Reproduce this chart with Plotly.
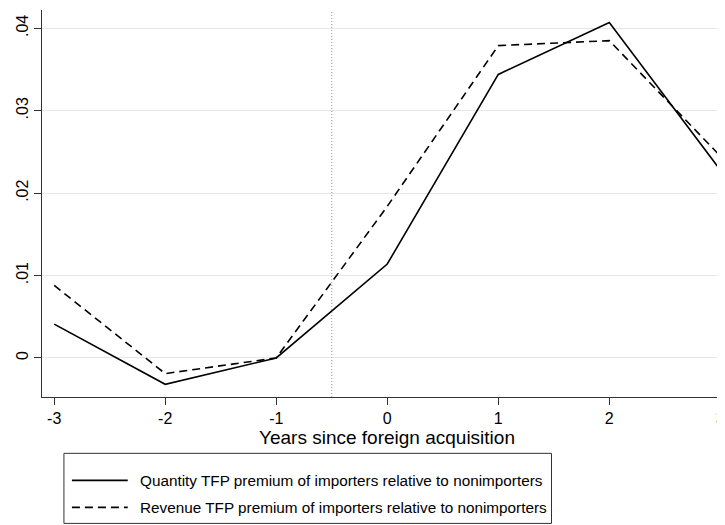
import plotly.graph_objects as go

years = [-3, -2, -1, 0, 1, 2, 3]
quantity_tfp = [0.0041, -0.0032, 0.0, 0.0114, 0.0344, 0.0407, 0.0228]
revenue_tfp = [0.0088, -0.0019, 0.0, 0.0184, 0.0379, 0.0385, 0.0245]
names = ["Quantity TFP premium of importers relative to nonimporters",
         "Revenue TFP premium of importers relative to nonimporters"]
ytick_vals = [0, 0.01, 0.02, 0.03, 0.04]
ytick_text = ["0", ".01", ".02", ".03", ".04"]
xtick_vals = [-3, -2, -1, 0, 1, 2, 3]
xtick_text = ["-3", "-2", "-1", "0", "1", "2", "3"]
event_line = -0.5
x_title = "Years since foreign acquisition"

# page body has an 8px margin, so the figure is drawn 8px smaller
OFF = 8
W, H = 725 - OFF, 525 - OFF
# plot area in reference pixel coordinates
PL, PR, PT, PB = 42, 725, 10, 396.7
L, R, T, B = PL - OFF, 0, PT - OFF, H - (PB - OFF)
FONT = "Liberation Sans, Arial, Helvetica, sans-serif"

fig = go.Figure()
fig.add_trace(go.Scatter(x=years, y=quantity_tfp, mode="lines", name=names[0],
                         line=dict(color="black", width=1.6), showlegend=False))
fig.add_trace(go.Scatter(x=years, y=revenue_tfp, mode="lines", name=names[1],
                         line=dict(color="black", width=1.6, dash="8px,5px"), showlegend=False))

fig.add_shape(type="line", xref="x", yref="paper", x0=event_line, x1=event_line, y0=0, y1=1,
              line=dict(color="#999999", width=1, dash="1px,2px"))

def px_x(p):
    return (p - PL) / (PR - PL)
def px_y(p):
    return (PB - p) / (PB - PT)

# legend box
fig.add_shape(type="rect", xref="paper", yref="paper", x0=px_x(64), x1=px_x(553),
              y0=px_y(523), y1=px_y(453), line=dict(color="#333333", width=1), fillcolor="white")
rows = [480, 507]
dashes = ["solid", "8px,5px"]
for nm, ry, ds in zip(names, rows, dashes):
    fig.add_shape(type="line", xref="paper", yref="paper", x0=px_x(72), x1=px_x(128),
                  y0=px_y(ry), y1=px_y(ry), line=dict(color="black", width=1.6, dash=ds))
    fig.add_annotation(xref="paper", yref="paper", x=px_x(138), y=px_y(ry), text=nm,
                       showarrow=False, xanchor="left", yanchor="middle",
                       font=dict(family=FONT, size=15.3, color="black"))

fig.add_annotation(xref="x", yref="paper", x=0, y=px_y(437), text=x_title,
                   showarrow=False, xanchor="center", yanchor="middle",
                   font=dict(family=FONT, size=19, color="black"))

fig.update_layout(
    width=W, height=H, margin=dict(l=L, r=R, t=T, b=B, pad=0),
    paper_bgcolor="white", plot_bgcolor="white",
    font=dict(family=FONT, size=15, color="black"),
    xaxis=dict(range=[-3.11, 3.024], tickvals=xtick_vals, ticktext=xtick_text,
               ticks="outside", ticklen=7, ticklabeloverflow="allow",
               tickcolor="#333333", showline=True, linecolor="#333333", linewidth=1.2,
               showgrid=False, zeroline=False, tickfont=dict(size=16)),
    yaxis=dict(range=[-0.00474, 0.04222], tickvals=ytick_vals, ticktext=ytick_text,
               tickangle=-90, ticks="outside", ticklen=7, tickcolor="#333333",
               showline=True, linecolor="#333333", linewidth=1.2,
               showgrid=True, gridcolor="#e6e6e6", gridwidth=1, zeroline=False,
               tickfont=dict(size=16)),
)
fig.write_html("out.html")
